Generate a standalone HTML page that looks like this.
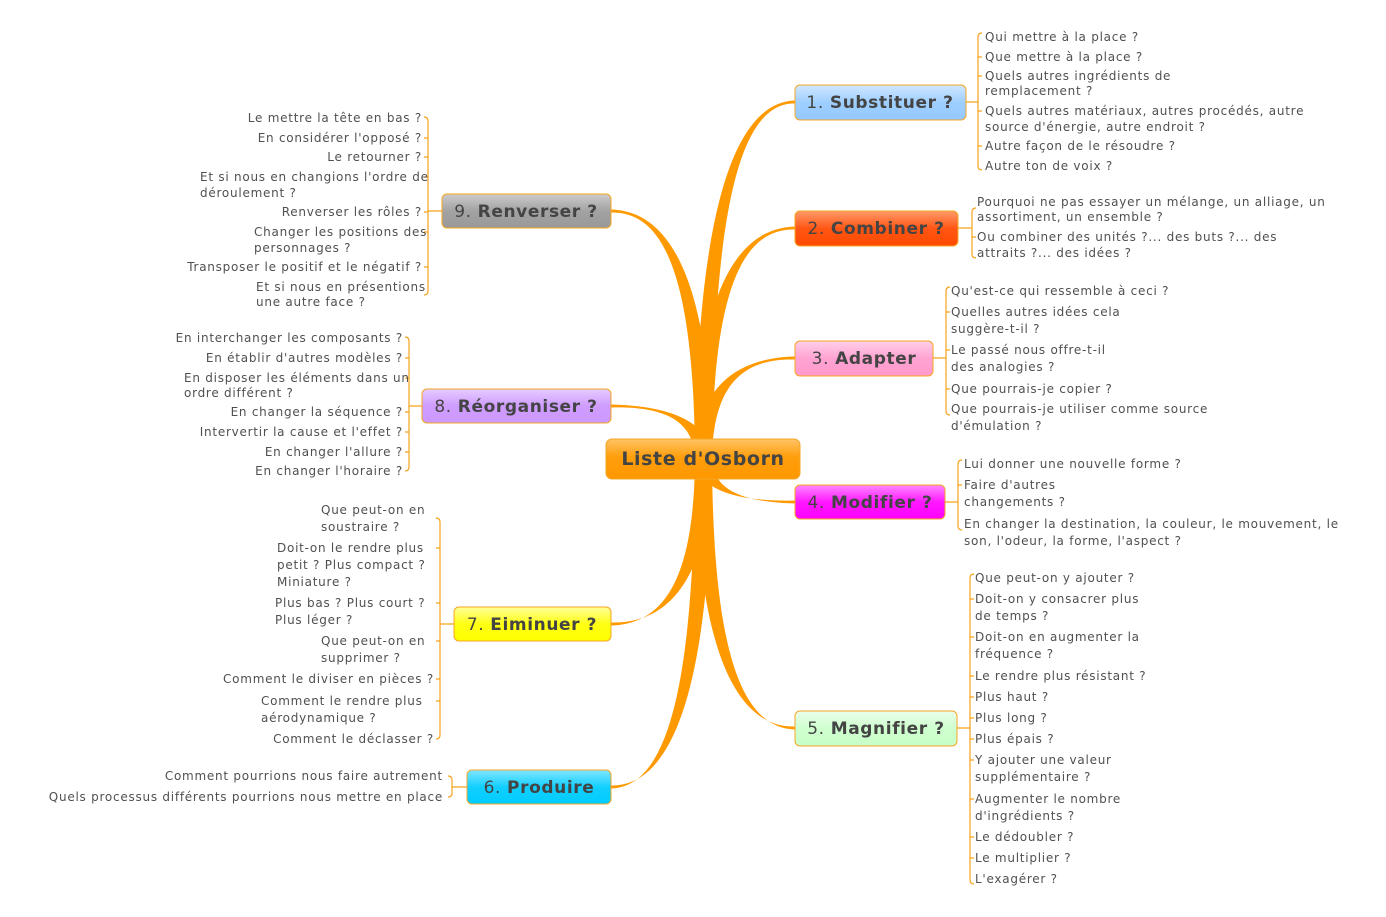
<!DOCTYPE html>
<html><head><meta charset="utf-8"><style>
html,body{margin:0;padding:0;background:#fff;}
svg{display:block;}
.t{font-family:"DejaVu Sans","Liberation Sans",sans-serif;font-size:12px;fill:#505050;letter-spacing:0.75px;white-space:pre;}
.e{text-anchor:end;}
.n{font-family:"DejaVu Sans","Liberation Sans",sans-serif;font-size:17px;fill:#444;text-anchor:middle;letter-spacing:0.6px;}
.n tspan.b{font-weight:bold;}
.br{fill:none;stroke:#f7a21b;stroke-width:1.2;}
.box{stroke:#f5a623;stroke-width:1;}
</style></head><body>
<svg width="1386" height="917" viewBox="0 0 1386 917" xmlns="http://www.w3.org/2000/svg">
<defs>
<linearGradient id="g0" x1="0" y1="0" x2="0" y2="1"><stop offset="0" stop-color="#ffc366"/><stop offset="0.45" stop-color="#ff9e0c"/><stop offset="1" stop-color="#ff9800"/></linearGradient>
<linearGradient id="g1" x1="0" y1="0" x2="0" y2="1"><stop offset="0" stop-color="#cfe7ff"/><stop offset="0.5" stop-color="#9fcfff"/><stop offset="1" stop-color="#93c8ff"/></linearGradient>
<linearGradient id="g2" x1="0" y1="0" x2="0" y2="1"><stop offset="0" stop-color="#ff9a6a"/><stop offset="0.5" stop-color="#ff5614"/><stop offset="1" stop-color="#ff4a00"/></linearGradient>
<linearGradient id="g3" x1="0" y1="0" x2="0" y2="1"><stop offset="0" stop-color="#ffd0e8"/><stop offset="0.5" stop-color="#ffa3d2"/><stop offset="1" stop-color="#ff99cc"/></linearGradient>
<linearGradient id="g4" x1="0" y1="0" x2="0" y2="1"><stop offset="0" stop-color="#ff88ff"/><stop offset="0.5" stop-color="#ff18ff"/><stop offset="1" stop-color="#ff00ff"/></linearGradient>
<linearGradient id="g5" x1="0" y1="0" x2="0" y2="1"><stop offset="0" stop-color="#eaffea"/><stop offset="0.5" stop-color="#cfffcf"/><stop offset="1" stop-color="#c8ffc8"/></linearGradient>
<linearGradient id="g6" x1="0" y1="0" x2="0" y2="1"><stop offset="0" stop-color="#80e6ff"/><stop offset="0.5" stop-color="#12cfff"/><stop offset="1" stop-color="#00ccff"/></linearGradient>
<linearGradient id="g7" x1="0" y1="0" x2="0" y2="1"><stop offset="0" stop-color="#ffff9a"/><stop offset="0.5" stop-color="#ffff14"/><stop offset="1" stop-color="#ffff00"/></linearGradient>
<linearGradient id="g8" x1="0" y1="0" x2="0" y2="1"><stop offset="0" stop-color="#e6ccff"/><stop offset="0.5" stop-color="#cf9cff"/><stop offset="1" stop-color="#cc99ff"/></linearGradient>
<linearGradient id="g9" x1="0" y1="0" x2="0" y2="1"><stop offset="0" stop-color="#cccccc"/><stop offset="0.5" stop-color="#a2a2a2"/><stop offset="1" stop-color="#999999"/></linearGradient>
</defs>
<g fill="#ff9900">
<path d="M695 459 C697 209 735 102 795 100.5 L795 103.5 C740 102 713 209 712 459Z"/>
<path d="M695 459 C697 297 735 228 795 226.5 L795 229.5 C740 228 713 297 712 459Z"/>
<path d="M695 459 C697 388 735 358 795 356.5 L795 359.5 C740 358 713 388 712 459Z"/>
<path d="M695 459 C697 489 735 502 795 500.5 L795 503.5 C740 502 713 489 712 459Z"/>
<path d="M695 459 C697 647 735 728 795 726.5 L795 729.5 C740 728 713 647 712 459Z"/>
<path d="M712 459 C710 285 672 211 611 209.5 L611 212.5 C667 211 694 285 695 459Z"/>
<path d="M712 459 C710 422 672 406 611 404.5 L611 407.5 C667 406 694 422 695 459Z"/>
<path d="M712 459 C710 574 672 624 611 622.5 L611 625.5 C667 624 694 574 695 459Z"/>
<path d="M712 459 C710 689 672 787 611 785.5 L611 788.5 C667 787 694 689 695 459Z"/>
</g>
<g class="br">
<path d="M966 102H978 M982 33 Q978 33 978 37 V166 Q978 170 982 170 M978 57h4 M978 76h4 M978 111h4 M978 146h4"/>
<path d="M958 228H972 M976 208 Q972 208 972 212 V254 Q972 258 976 258 M972 237h4"/>
<path d="M933 358H946 M950 287 Q946 287 946 291 V411 Q946 415 950 415 M946 312h4 M946 350h4 M946 389h4"/>
<path d="M945 502H958 M962 460 Q958 460 958 464 V526 Q958 530 962 530 M958 485h4"/>
<path d="M957 728H970 M974 574 Q970 574 970 578 V880 Q970 884 974 884 M970 599h4 M970 637h4 M970 676h4 M970 697h4 M970 718h4 M970 739h4 M970 760h4 M970 799h4 M970 837h4 M970 858h4"/>
<path d="M442 211H428 M424 117 Q428 117 428 121 V291 Q428 295 424 295 M428 138h-4 M428 157h-4 M428 177h-4 M428 212h-4 M428 232h-4 M428 267h-4"/>
<path d="M422 406H409 M405 337 Q409 337 409 341 V467 Q409 471 405 471 M409 358h-4 M409 378h-4 M409 412h-4 M409 432h-4 M409 452h-4"/>
<path d="M454 624H440 M436 518 Q440 518 440 522 V735 Q440 739 436 739 M440 548h-4 M440 603h-4 M440 641h-4 M440 679h-4 M440 701h-4"/>
<path d="M467 787H452 M448 776 Q452 776 452 780 V793 Q452 797 448 797"/>
</g>
<rect class="box" x="606" y="439" width="194" height="40" rx="6" fill="url(#g0)"/>
<text class="n" x="703" y="465" style="font-size:19px;font-weight:bold">Liste d'Osborn</text>
<rect class="box" x="795" y="85" width="171" height="35" rx="5" fill="url(#g1)"/>
<text class="n" x="880" y="108">1. <tspan class="b">Substituer ?</tspan></text>
<rect class="box" x="795" y="211" width="163" height="35" rx="5" fill="url(#g2)"/>
<text class="n" x="876" y="234">2. <tspan class="b">Combiner ?</tspan></text>
<rect class="box" x="795" y="341" width="138" height="35" rx="5" fill="url(#g3)"/>
<text class="n" x="864" y="364">3. <tspan class="b">Adapter</tspan></text>
<rect class="box" x="795" y="485" width="150" height="34" rx="5" fill="url(#g4)"/>
<text class="n" x="870" y="508">4. <tspan class="b">Modifier ?</tspan></text>
<rect class="box" x="795" y="711" width="162" height="35" rx="5" fill="url(#g5)"/>
<text class="n" x="876" y="734">5. <tspan class="b">Magnifier ?</tspan></text>
<rect class="box" x="467" y="770" width="144" height="34" rx="5" fill="url(#g6)"/>
<text class="n" x="539" y="793">6. <tspan class="b">Produire</tspan></text>
<rect class="box" x="454" y="607" width="157" height="34" rx="5" fill="url(#g7)"/>
<text class="n" x="532" y="630">7. <tspan class="b">Eiminuer ?</tspan></text>
<rect class="box" x="422" y="389" width="189" height="34" rx="5" fill="url(#g8)"/>
<text class="n" x="516" y="412">8. <tspan class="b">Réorganiser ?</tspan></text>
<rect class="box" x="442" y="194" width="169" height="34" rx="5" fill="url(#g9)"/>
<text class="n" x="526" y="217">9. <tspan class="b">Renverser ?</tspan></text>
<g class="t">
<text x="985" y="41">Qui mettre à la place ?</text>
<text x="985" y="61">Que mettre à la place ?</text>
<text x="985" y="80">Quels autres ingrédients de</text>
<text x="985" y="95">remplacement ?</text>
<text x="985" y="115">Quels autres matériaux, autres procédés, autre</text>
<text x="985" y="131">source d'énergie, autre endroit ?</text>
<text x="985" y="150">Autre façon de le résoudre ?</text>
<text x="985" y="170">Autre ton de voix ?</text>
<text x="977" y="206">Pourquoi  ne pas essayer un mélange, un alliage, un</text>
<text x="977" y="221">assortiment, un ensemble ?</text>
<text x="977" y="241">Ou combiner des unités ?... des buts ?... des</text>
<text x="977" y="257">attraits ?... des idées ?</text>
<text x="951" y="295">Qu'est-ce qui ressemble à ceci ?</text>
<text x="951" y="316">Quelles autres idées cela</text>
<text x="951" y="333">suggère-t-il ?</text>
<text x="951" y="354">Le passé nous offre-t-il</text>
<text x="951" y="371">des analogies ?</text>
<text x="951" y="393">Que pourrais-je copier ?</text>
<text x="951" y="413">Que pourrais-je utiliser comme source</text>
<text x="951" y="430">d'émulation ?</text>
<text x="964" y="468">Lui donner une nouvelle forme ?</text>
<text x="964" y="489">Faire d'autres</text>
<text x="964" y="506">changements ?</text>
<text x="964" y="528">En changer la destination, la couleur, le mouvement, le</text>
<text x="964" y="545">son, l'odeur, la forme, l'aspect ?</text>
<text x="975" y="582">Que peut-on y ajouter ?</text>
<text x="975" y="603">Doit-on y consacrer plus</text>
<text x="975" y="620">de temps ?</text>
<text x="975" y="641">Doit-on en augmenter la</text>
<text x="975" y="658">fréquence ?</text>
<text x="975" y="680">Le rendre plus résistant ?</text>
<text x="975" y="701">Plus haut ?</text>
<text x="975" y="722">Plus long ?</text>
<text x="975" y="743">Plus épais ?</text>
<text x="975" y="764">Y ajouter une valeur</text>
<text x="975" y="781">supplémentaire ?</text>
<text x="975" y="803">Augmenter le nombre</text>
<text x="975" y="820">d'ingrédients ?</text>
<text x="975" y="841">Le dédoubler ?</text>
<text x="975" y="862">Le multiplier ?</text>
<text x="975" y="883">L'exagérer ?</text>
<text class="e" x="422" y="122">Le mettre la tête en bas ?</text>
<text class="e" x="422" y="142">En considérer l'opposé ?</text>
<text class="e" x="422" y="161">Le retourner ?</text>
<text x="200" y="181">Et si nous en changions l'ordre de</text>
<text x="200" y="197">déroulement ?</text>
<text class="e" x="422" y="216">Renverser les rôles ?</text>
<text x="254" y="236">Changer les positions des</text>
<text x="254" y="252">personnages ?</text>
<text class="e" x="422" y="271">Transposer le positif et le négatif ?</text>
<text x="256" y="291">Et si nous en présentions</text>
<text x="256" y="306">une autre face ?</text>
<text class="e" x="403" y="342">En interchanger les composants ?</text>
<text class="e" x="403" y="362">En établir d'autres modèles ?</text>
<text x="184" y="382">En disposer les éléments dans un</text>
<text x="184" y="397">ordre différent ?</text>
<text class="e" x="403" y="416">En changer la séquence ?</text>
<text class="e" x="403" y="436">Intervertir la cause et l'effet ?</text>
<text class="e" x="403" y="456">En changer l'allure ?</text>
<text class="e" x="403" y="475">En changer l'horaire ?</text>
<text x="321" y="514">Que peut-on en</text>
<text x="321" y="531">soustraire ?</text>
<text x="277" y="552">Doit-on le rendre plus</text>
<text x="277" y="569">petit ? Plus compact ?</text>
<text x="277" y="586">Miniature ?</text>
<text x="275" y="607">Plus bas ? Plus court ?</text>
<text x="275" y="624">Plus léger ?</text>
<text x="321" y="645">Que peut-on en</text>
<text x="321" y="662">supprimer ?</text>
<text class="e" x="434" y="683">Comment le diviser en pièces ?</text>
<text x="261" y="705">Comment le rendre plus</text>
<text x="261" y="722">aérodynamique ?</text>
<text class="e" x="434" y="743">Comment le déclasser ?</text>
<text class="e" x="443" y="780">Comment pourrions nous faire autrement</text>
<text class="e" x="443" y="801">Quels processus différents  pourrions nous mettre en place</text>
</g>
</svg>
</body></html>
